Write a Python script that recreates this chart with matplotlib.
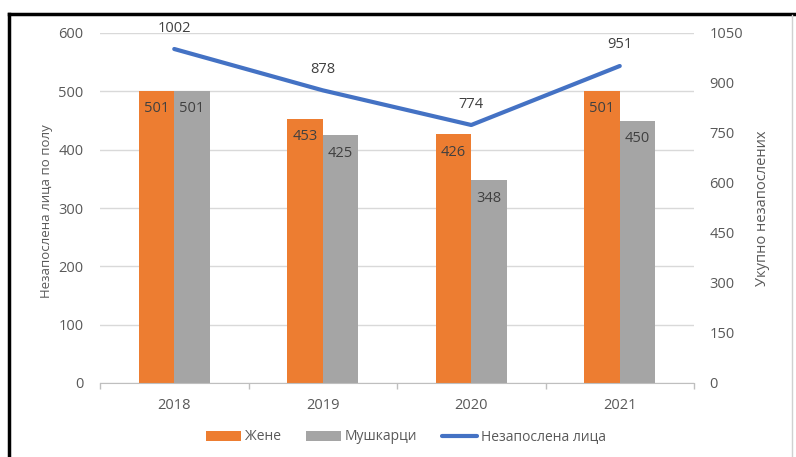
import matplotlib
matplotlib.use('Agg')
import matplotlib.pyplot as plt
import numpy as np
from matplotlib.lines import Line2D

years = ['2018', '2019', '2020', '2021']
women = [501, 453, 426, 501]
men = [501, 425, 348, 450]
total = [1002, 878, 774, 951]

plt.rcParams['font.family'] = ['Open Sans', 'DejaVu Sans']
TXT = '#595959'
FS = 10.5

W, H = 796, 457
fig = plt.figure(figsize=(W / 100, H / 100), dpi=100)
# plot area in pixels: x 100..694, y 33..383
ax = fig.add_axes([100 / W, 1 - 383 / H, 594 / W, 350 / H])
ax2 = ax.twinx()

x = np.arange(len(years))
bw = 0.24
b1 = ax.bar(x - bw / 2, women, bw, color='#ED7D31', label='Жене', zorder=2)
b2 = ax.bar(x + bw / 2, men, bw, color='#A5A5A5', label='Мушкарци', zorder=2)
for bars, vals in ((b1, women), (b2, men)):
    for r, v in zip(bars, vals):
        ax.annotate(str(v), (r.get_x() + r.get_width() / 2, v),
                    xytext=(0, -18), textcoords='offset pixels',
                    ha='center', va='center', fontsize=FS, color='#404040')

ln, = ax2.plot(x, total, color='#4472C4', lw=3, solid_capstyle='round',
               label='Незапослена лица')
for xi, v in zip(x, total):
    ax2.annotate(str(v), (xi, v), xytext=(0, 21), textcoords='offset pixels',
                 ha='center', va='center', fontsize=FS, color='#404040')

ax.set_xlim(-0.5, 3.5)
ax.set_ylim(0, 600)
ax.set_yticks(range(0, 601, 100))
ax2.set_ylim(0, 1050)
ax2.set_yticks(range(0, 1051, 150))
ax.set_xticks(x)
ax.set_xticklabels(years)
ax.set_xticks([-0.5, 0.5, 1.5, 2.5, 3.5], minor=True)
ax.tick_params(axis='x', which='major', length=0, pad=11, labelsize=FS, colors=TXT)
ax.tick_params(axis='x', which='minor', length=4, color='#bfbfbf', width=1)
ax.tick_params(axis='y', length=0, pad=12, labelsize=FS, colors=TXT)
ax2.tick_params(axis='y', length=0, pad=11, labelsize=FS, colors=TXT)
ax.grid(axis='y', color='#d9d9d9', lw=1, zorder=0)
ax.set_axisbelow(True)
for a in (ax, ax2):
    for s in ('top', 'left', 'right', 'bottom'):
        a.spines[s].set_visible(False)
ax.spines['bottom'].set_visible(True)
ax.spines['bottom'].set_color('#bfbfbf')

ax.set_ylabel('Незапослена лица по полу', fontsize=9.5, color=TXT)
ax.yaxis.set_label_coords(-0.079, 0.49)
ax2.set_ylabel('Укупно незапослених', fontsize=10.5, color=TXT, labelpad=9)

fig.legend(handles=[b1, b2, ln], loc='center', bbox_to_anchor=(406 / W, 1 - 437 / H),
           ncol=3, frameon=False, fontsize=10, labelcolor=TXT,
           handlelength=2.5, handleheight=0.75, columnspacing=1.8, handletextpad=0.3)

# frame around the chart
fig.add_artist(Line2D([9 / W, 9 / W], [0, 1 - 14 / H], color='black', lw=2.5))
fig.add_artist(Line2D([9 / W, 795 / W], [1 - 14 / H, 1 - 14 / H], color='black', lw=2.5))
fig.add_artist(Line2D([792 / W, 792 / W], [0, 1 - 15 / H], color='#d0d0d0', lw=1))

fig.savefig('out.png', dpi=100)
